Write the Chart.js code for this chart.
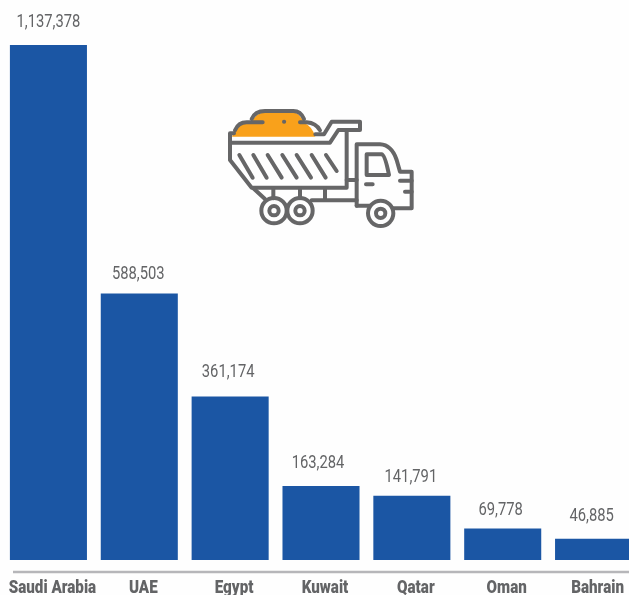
<!DOCTYPE html>
<html>
<head>
<meta charset="utf-8">
<script src="https://cdn.jsdelivr.net/npm/chart.js@4"></script>
<style>
    html, body { margin: 0; padding: 0; background: #fefefe; }
    body { width: 629px; height: 595px; overflow: hidden; position: relative; }
    #chart-box { position: absolute; left: 0; top: 0; width: 640px; height: 595px; }
    #truck { position: absolute; left: 210px; top: 95px; width: 220px; height: 145px; }
    #truck .line { fill: none; stroke: #666667; stroke-width: 12; stroke-linecap: round; stroke-linejoin: round; }
</style>
</head>
<body>
<div id="chart-box"><canvas id="chart"></canvas></div>

<svg id="truck" viewBox="0 0 660 435">
    <path fill="#f9a11b" d="M66 125 L72 108 Q85 84 125 82 Q135 55 165 52 L250 52 Q270 55 282 84 Q305 92 316 125 Z"/>
    <g class="line">
        <!-- heap -->
        <path d="M125 72 Q135 48 165 48 L250 48 Q272 48 282 72"/>
        <path d="M75 106 Q85 82 110 82 L158 82"/>
        <path d="M270 82 L290 82 Q318 84 330 106"/>
        <path d="M222 80 L222.5 80"/>
        <!-- dump bed, the rim stays open behind the load -->
        <path d="M72 115 L60 115 L60 143 L360 143 L385 105 L450 105 L450 80 L365 80 L342 118 L316 118"/>
        <path d="M60 143 L60 195 L125 278 L410 278 L410 110"/>
        <path d="M88 180 L128 248 M130 180 L170 248 M173 180 L215 248 M217 180 L260 248 M260 180 L303 248 M305 180 L347 248 M348 180 L380 228"/>
        <!-- chassis -->
        <path d="M130 280 L165 312 M190 280 L190 310 M270 280 L270 310 M345 280 L345 315"/>
        <path d="M305 316 L440 316 M410 255 L440 255 M440 332 L480 332"/>
        <!-- cab -->
        <path d="M440 332 L440 148 L510 148 Q545 150 560 195 L570 230 L605 230 L605 340 L548 340"/>
        <path d="M470 178 L515 178 Q525 180 537 240 L470 240 Z"/>
        <path d="M468 268 L488 268 M570 257 L605 257 M585 290 L605 290"/>
        <!-- wheels -->
        <circle cx="192" cy="347" r="38"/>
        <circle cx="192" cy="347" r="14"/>
        <circle cx="270" cy="347" r="38"/>
        <circle cx="270" cy="347" r="14"/>
        <circle cx="512" cy="355" r="38"/>
        <circle cx="512" cy="355" r="14"/>
    </g>
</svg>

<script>
const countries = ["Saudi Arabia", "UAE", "Egypt", "Kuwait", "Qatar", "Oman", "Bahrain"];
const exportsValues = [1137378, 588503, 361174, 163284, 141791, 69778, 46885];

// the value labels were placed by hand, so each has its own nudge
const labelNudgeX = [0, -1, -2, -3, -1, -2, -2];
const labelLift = [18, 15, 19, 18, 14, 13, 18];

const barColor = "#1b56a4";
const textColor = "#636466";
const axisColor = "#b6b6b9";

// draws text squeezed sideways, there is no condensed Roboto on hand
function drawNarrowText(ctx, text, x, y, font, squeeze) {
    ctx.save();
    ctx.font = font;
    ctx.fillStyle = textColor;
    ctx.textAlign = "center";
    ctx.textBaseline = "alphabetic";
    ctx.translate(x, y);
    ctx.scale(squeeze, 1);
    ctx.fillText(text, 0, 0);
    ctx.restore();
}

const barLabels = {
    id: "barLabels",
    afterDatasetsDraw(chart) {
        const ctx = chart.ctx;
        const xScale = chart.scales.x;
        chart.getDatasetMeta(0).data.forEach((bar, i) => {
            drawNarrowText(ctx, exportsValues[i].toLocaleString("en-US"), bar.x + labelNudgeX[i], bar.y - labelLift[i], "400 18px Roboto", 0.82);
            drawNarrowText(ctx, countries[i], xScale.getPixelForTick(i) + 4, 593, "900 19px Roboto", 0.8);
        });

        // axis line sits a little under the feet of the bars
        ctx.save();
        ctx.strokeStyle = axisColor;
        ctx.lineWidth = 2.5;
        ctx.beginPath();
        ctx.moveTo(13, chart.chartArea.bottom);
        ctx.lineTo(chart.width, chart.chartArea.bottom);
        ctx.stroke();
        ctx.restore();
    }
};

new Chart(document.getElementById("chart"), {
    type: "bar",
    plugins: [barLabels],
    data: {
        labels: countries,
        datasets: [{
            data: exportsValues,
            backgroundColor: barColor,
            barPercentage: 1,
            categoryPercentage: 0.848
        }]
    },
    options: {
        responsive: true,
        maintainAspectRatio: false,
        animation: false,
        layout: { padding: { left: 3, right: 1, top: 45, bottom: 23 } },
        plugins: {
            legend: { display: false },
            tooltip: false
        },
        scales: {
            x: { display: false },
            y: {
                display: false,
                min: -26500,
                max: 1137378
            }
        }
    }
});
</script>
</body>
</html>
